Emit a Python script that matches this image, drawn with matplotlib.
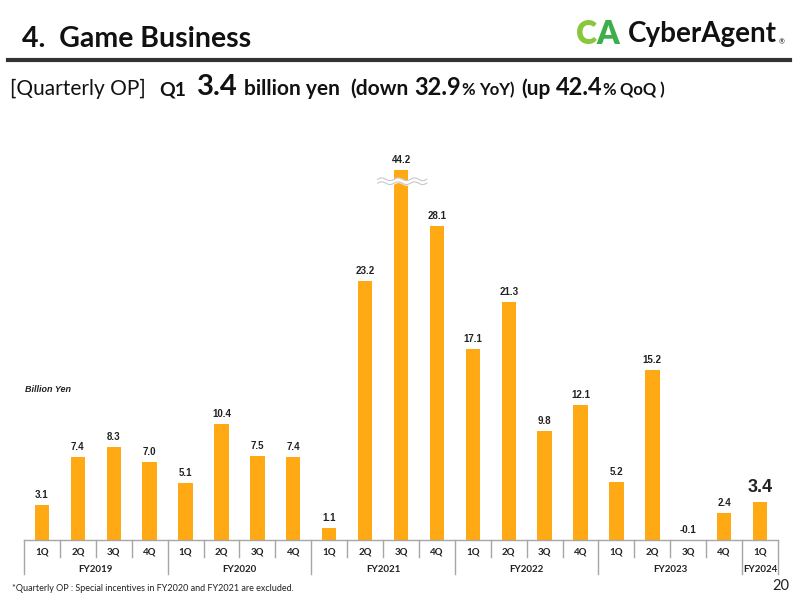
import numpy as np
import matplotlib
matplotlib.use("Agg")
import matplotlib.pyplot as plt

# data
quarters = ["1Q", "2Q", "3Q", "4Q"] * 5 + ["1Q"]
years = ["FY2019", "FY2020", "FY2021", "FY2022", "FY2023", "FY2024"]
year_counts = [4, 4, 4, 4, 4, 1]
op = [3.1, 7.4, 8.3, 7.0, 5.1, 10.4, 7.5, 7.4, 1.1, 23.2, 44.2, 28.1,
      17.1, 21.3, 9.8, 12.1, 5.2, 15.2, -0.1, 2.4, 3.4]
cap = 33.1  # the 44.2 bar is drawn cut

BAR = "#FFA914"
plt.rcParams["font.family"] = ["Lato", "DejaVu Sans"]

fig = plt.figure(figsize=(8, 6), dpi=100)
ax = fig.add_axes([0.03, 0.10, 0.9425, 440 / 600])

x = np.arange(len(op))
shown = [min(v, cap) for v in op]
ax.bar(x, shown, width=0.4, color=BAR, clip_on=False, zorder=2)
ax.set_xlim(-0.5, len(op) - 0.5)
ax.set_ylim(0, 39.4)
ax.axis("off")

for i, (v, h) in enumerate(zip(op, shown)):
    last = i == len(op) - 1
    y = max(h, 0) + (1.3 if last else 0.9)
    ax.text(i, y, f"{v:.1f}", ha="center", va="center",
            fontsize=13 if last else 7, fontweight="bold",
            family="Liberation Sans", color="#222222")

# break mark on the tall bar
ib = op.index(max(op))
wx = np.linspace(ib - 0.65, ib + 0.72, 60)
wave = 0.12 * np.sin((wx - wx[0]) / 1.37 * 2 * np.pi * 3)
y1 = 32.3 + wave
y2 = 31.95 + wave
ax.fill_between(wx, y2, y1, color="white", zorder=3)
ax.plot(wx, y1, color="#c8c8c8", lw=0.8, zorder=4)
ax.plot(wx, y2, color="#c8c8c8", lw=0.8, zorder=4)

# category table under the bars
tr = ax.get_xaxis_transform()
line = dict(color="#a6a6a6", lw=1, transform=tr, clip_on=False)
q_bot, y_bot = -0.039, -0.078
ax.plot([-0.5, len(op) - 0.5], [0, 0], **line)
bounds = np.cumsum([0] + year_counts) - 0.5
for b in np.arange(-0.5, len(op)):
    ax.plot([b, b], [0, y_bot if b in bounds else q_bot], **line)
for i, q in enumerate(quarters):
    ax.text(i, -0.027, q, transform=tr, ha="center", va="center",
            fontsize=7, fontweight="bold", color="#222222")
for j, yr in enumerate(years):
    c = (bounds[j] + bounds[j + 1]) / 2
    ax.text(c, -0.066, yr, transform=tr, ha="center", va="center",
            fontsize=7, fontweight="bold", color="#222222")

ax.text(-0.47, 13.5, "Billion Yen", fontsize=6.5, fontstyle="italic",
        fontweight="bold", family="Liberation Sans", color="#222222",
        va="center")

# header
fig.text(0.028, 0.935, "4.  Game Business", fontsize=20.5, fontweight="bold",
         va="center", color="#111111")
fig.add_artist(plt.Line2D([0.01, 0.988], [0.9, 0.9], color="#333333", lw=3))
fig.text(0.72, 0.943, "C", fontsize=23, fontweight="heavy", color="#8CC63F",
         va="center")
fig.text(0.746, 0.943, "A", fontsize=23, fontweight="heavy", color="#3DAE49",
         va="center")
fig.text(0.785, 0.943, "CyberAgent", fontsize=20, fontweight="bold",
         color="#111111", va="center")
fig.text(0.973, 0.93, "®", fontsize=5, color="#111111", va="center")

# subtitle line, laid out left to right (text, size, weight, gap after in px)
pieces = [("[Quarterly OP]", 15, "normal", 14),
          ("Q1", 14, "bold", 10),
          ("3.4", 21, "bold", 7),
          ("billion yen", 15, "bold", 10),
          ("(down", 15, "bold", 6),
          ("32.9", 17, "bold", 0),
          ("%", 12, "bold", 4),
          ("YoY)", 12, "bold", 7),
          ("(up", 15, "bold", 5),
          ("42.4", 17, "bold", 0),
          ("%", 12, "bold", 4),
          ("QoQ )", 12, "bold", 0)]
renderer = fig.canvas.get_renderer()
xp = 10
for s, size, w, gap in pieces:
    t = fig.text(xp / 800, 1 - 95 / 600, s, fontsize=size, fontweight=w,
                 va="baseline", color="#111111")
    xp += t.get_window_extent(renderer).width + gap

fig.text(0.015, 0.012, "*Quarterly OP : Special incentives in FY2020 and FY2021 are excluded.",
         fontsize=6.5, color="#222222", va="bottom")
fig.text(0.987, 0.012, "20", fontsize=10.5, color="#222222", ha="right", va="bottom")

fig.savefig("out.png", dpi=100)
